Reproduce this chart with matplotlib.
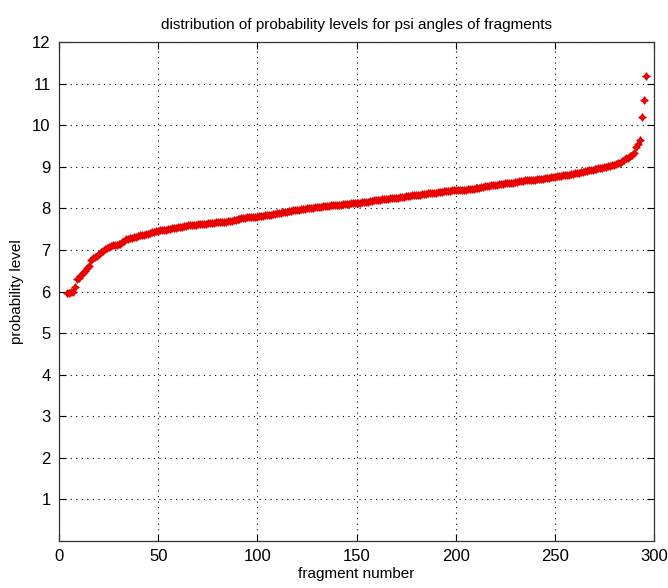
import numpy as np
import matplotlib
matplotlib.use('Agg')
import matplotlib.pyplot as plt

# sorted probability levels, one per fragment
first_fragment = 4
levels = [
    5.97, 5.97, 5.98, 6.00, 6.10, 6.30,                                  # 4-9
    6.33, 6.40, 6.45, 6.50, 6.56, 6.62, 6.75, 6.80, 6.82, 6.85,          # 10-19
    6.90, 6.95, 6.98, 7.02, 7.05, 7.08, 7.10, 7.11, 7.12, 7.13,          # 20-29
    7.14, 7.15, 7.18, 7.22, 7.26, 7.27, 7.28, 7.29, 7.30, 7.32,          # 30-39
    7.34, 7.35, 7.36, 7.37, 7.38, 7.39, 7.40, 7.42, 7.44, 7.45,          # 40-49
    7.46, 7.47, 7.48, 7.48, 7.49, 7.50, 7.51, 7.52, 7.52, 7.53,
    7.54, 7.55, 7.56, 7.57, 7.58, 7.59, 7.60, 7.60, 7.61, 7.61,
    7.62, 7.62, 7.63, 7.63, 7.63, 7.64, 7.64, 7.65, 7.65, 7.66,
    7.66, 7.67, 7.67, 7.68, 7.68, 7.69, 7.69, 7.70, 7.71, 7.72,
    7.74, 7.75, 7.76, 7.77, 7.77, 7.78, 7.78, 7.79, 7.79, 7.80,
    7.80, 7.81, 7.81, 7.82, 7.83, 7.84, 7.84, 7.85, 7.86, 7.87,          # 100-109
    7.88, 7.88, 7.89, 7.90, 7.91, 7.92, 7.93, 7.94, 7.95, 7.95,
    7.96, 7.97, 7.98, 7.98, 7.99, 8.00, 8.01, 8.02, 8.02, 8.03,
    8.03, 8.04, 8.04, 8.05, 8.05, 8.06, 8.06, 8.07, 8.07, 8.08,
    8.08, 8.09, 8.09, 8.10, 8.10, 8.11, 8.11, 8.12, 8.12, 8.13,
    8.13, 8.14, 8.14, 8.15, 8.15, 8.16, 8.16, 8.17, 8.18, 8.19,          # 150-159
    8.19, 8.20, 8.21, 8.22, 8.22, 8.23, 8.23, 8.24, 8.25, 8.25,
    8.26, 8.26, 8.27, 8.28, 8.28, 8.29, 8.30, 8.30, 8.31, 8.32,
    8.32, 8.33, 8.33, 8.34, 8.34, 8.35, 8.36, 8.36, 8.37, 8.38,
    8.38, 8.39, 8.40, 8.40, 8.41, 8.41, 8.42, 8.42, 8.43, 8.43,
    8.44, 8.44, 8.44, 8.45, 8.45, 8.45, 8.46, 8.46, 8.46, 8.47,          # 200-209
    8.48, 8.49, 8.50, 8.51, 8.52, 8.53, 8.53, 8.54, 8.55, 8.56,
    8.56, 8.57, 8.58, 8.58, 8.59, 8.60, 8.60, 8.61, 8.62, 8.62,
    8.63, 8.64, 8.65, 8.66, 8.66, 8.67, 8.67, 8.68, 8.68, 8.69,
    8.69, 8.70, 8.70, 8.71, 8.71, 8.72, 8.73, 8.74, 8.75, 8.75,
    8.76, 8.77, 8.77, 8.78, 8.79, 8.80, 8.81, 8.81, 8.82, 8.83,          # 250-259
    8.84, 8.85, 8.86, 8.87, 8.88, 8.89, 8.90, 8.91, 8.92, 8.93,
    8.94, 8.95, 8.96, 8.97, 8.98, 8.99, 9.00, 9.02, 9.03, 9.04,
    9.05, 9.07, 9.08, 9.10, 9.13, 9.16, 9.20, 9.22, 9.25, 9.28,
    9.33, 9.48, 9.55, 9.65, 10.20, 10.60, 11.18,                         # 290-296
]
fragments = np.arange(first_fragment, first_fragment + len(levels))

x_ticks = [0, 50, 100, 150, 200, 250, 300]
y_ticks = list(range(1, 13))

plt.rcParams['font.family'] = ['Liberation Sans Narrow', 'Liberation Sans', 'DejaVu Sans']

fig = plt.figure(figsize=(6.68, 5.88), dpi=100)
ax = fig.add_axes([59 / 668, 1 - 541 / 588, 595 / 668, 499 / 588])

ax.plot(fragments, levels, linestyle='none', marker=(4, 1, 0), markersize=5.5,
        color='#ff0000', markeredgecolor='#e00000', markeredgewidth=0.8)

ax.set_xlim(0, 300)
ax.set_ylim(0, 12)
ax.set_xticks(x_ticks)
ax.set_yticks(y_ticks)
ax.tick_params(direction='in', length=5, labelsize=12, top=True, right=True,
               width=0.8, pad=6)
ax.grid(True, color='black', linestyle=(0, (1, 4)), linewidth=0.8)
for s in ax.spines.values():
    s.set_linewidth(0.9)
    s.set_color('#333333')

ax.set_title('distribution of probability levels for psi angles of fragments',
             fontsize=11, pad=9)
ax.set_xlabel('fragment number', fontsize=11, labelpad=2)
ax.set_ylabel('probability level', fontsize=11, labelpad=6)

plt.savefig('out.png', dpi=100)
plt.close()
